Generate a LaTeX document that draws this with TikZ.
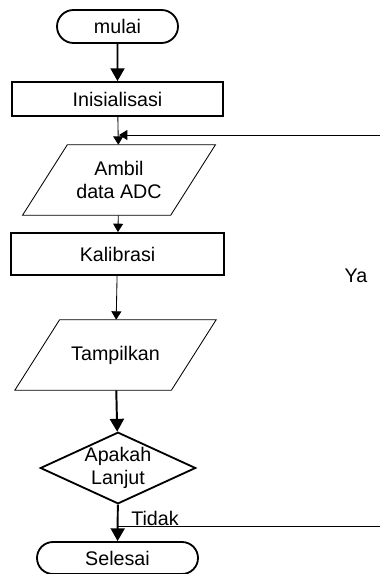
\documentclass[tikz,border=0pt]{standalone}
\usepackage{fontspec}
\setmainfont{Liberation Sans}
\usetikzlibrary{shapes.geometric,shapes.misc,arrows.meta}

\begin{document}
\begin{tikzpicture}[x=0.25mm, y=-0.25mm,
  every node/.style={font=\fontsize{14}{16}\selectfont, align=center},
  terminal/.style={draw, line width=1.3pt, rounded rectangle, inner sep=0pt},
  proses/.style={draw, line width=1.3pt, rectangle, inner sep=0pt},
  masukan/.style={rectangle, minimum height=17.5mm, inner sep=0pt},
  jajaran/.style={line width=0.6pt, line join=miter},
  keputusan/.style={draw, line width=1.3pt, diamond, aspect=2.17, minimum width=38mm, minimum height=17.5mm, inner sep=0pt},
  alurTebal/.style={-{Triangle[length=3.2mm,width=3.5mm]}, line width=1.4pt},
  alurTipis/.style={-{Triangle[length=2.1mm,width=2.5mm]}, line width=0.6pt}]

% Batas gambar
\useasboundingbox (0,0) rectangle (380,574);

% Simbol-simbol diagram alir
\node[terminal, minimum width=30.25mm, minimum height=8.25mm] (mulai) at (117.5,26.5) {mulai};
\node[proses, minimum width=52.75mm, minimum height=8.5mm] (inisialisasi) at (117.5,99) {Inisialisasi};
\node[masukan, minimum width=36.9mm] (ambil) at (119,180) {Ambil\\data ADC};
\node[proses, minimum width=53.25mm, minimum height=10.5mm] (kalibrasi) at (117.5,254) {Kalibrasi};
\node[masukan, minimum width=39mm] (tampilkan) at (115.5,355) {Tampilkan};
\node[keputusan] (lanjut) at (118,468) {Apakah\\Lanjut};
\node[terminal, minimum width=40.25mm, minimum height=8mm] (selesai) at (117.5,558) {Selesai};

% Jajaran genjang untuk masukan/keluaran
\foreach \n in {ambil,tampilkan} {
\draw[jajaran] ([xshift=5.6mm]\n.north west) -- ([xshift=5.6mm]\n.north east)
  -- ([xshift=-5.6mm]\n.south east) -- ([xshift=-5.6mm]\n.south west) -- cycle;
}

% Titik bantu untuk jalur kembali dan jalur keluar
\coordinate (ujungYa) at (380,135);
\coordinate (gabung) at (119,135);
\coordinate (cabangTidak) at (118,526);
\coordinate (ujungTidak) at (380,526);

% Alur utama
\draw[alurTebal] (mulai) -- (inisialisasi);
\draw[alurTipis] (inisialisasi) -- (ambil);
\draw[alurTipis] (ambil) -- (kalibrasi);
\draw[alurTipis] (kalibrasi) -- (tampilkan);
\draw[alurTebal] (tampilkan) -- (lanjut);
\draw[alurTebal] (lanjut) -- (selesai);

% Jalur kembali (Ya) dan jalur Tidak
\draw[alurTipis] (ujungYa) -- (gabung);
\draw[line width=0.6pt] (cabangTidak) -- (ujungTidak);

% Label
\node (labelYa) at (356,276) {Ya};
\node (labelTidak) at (155,518) {Tidak};

\end{tikzpicture}
\end{document}
